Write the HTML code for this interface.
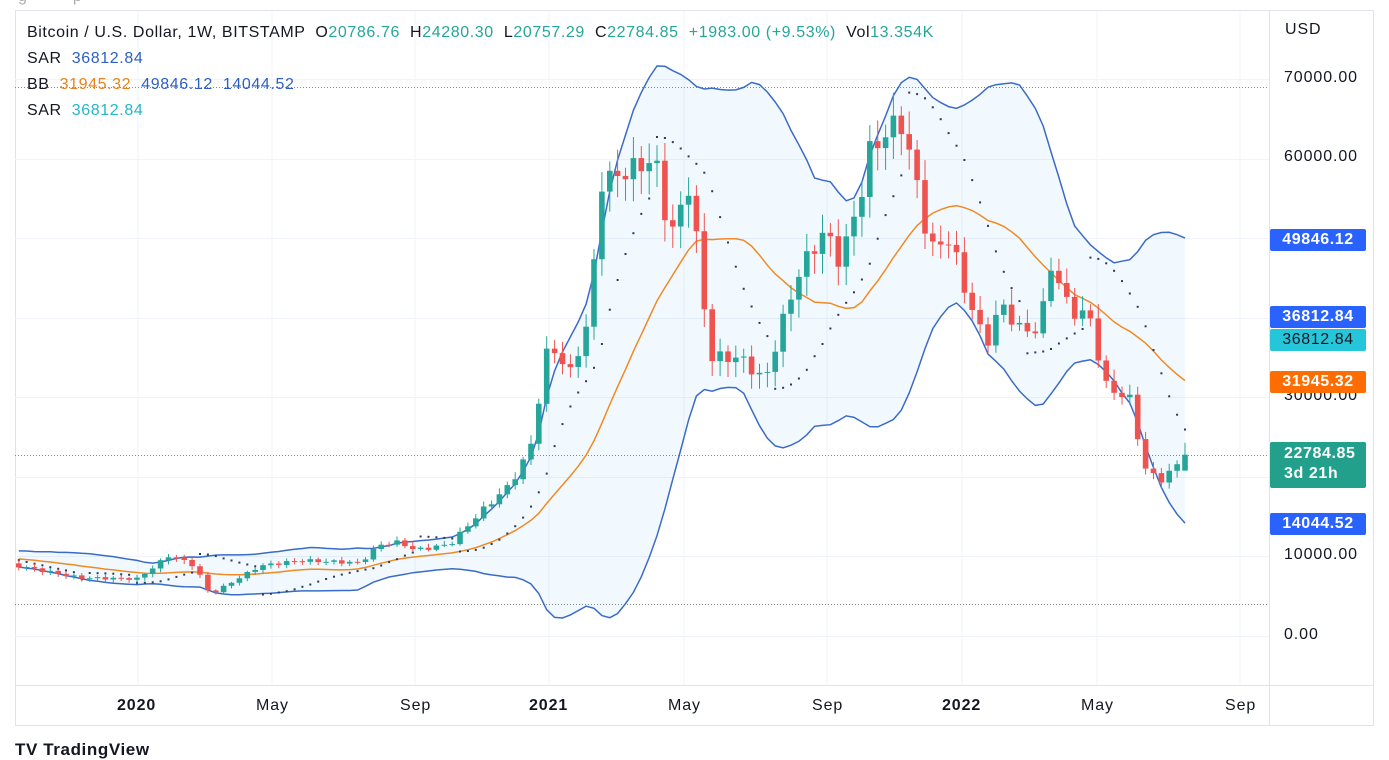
<!DOCTYPE html>
<html><head><meta charset="utf-8">
<style>
html,body{margin:0;padding:0;background:#fff;width:1389px;height:750px;overflow:hidden;font-family:"Liberation Sans",sans-serif}
.t{position:absolute;white-space:nowrap;font-size:16px;letter-spacing:0.6px;color:#131722}
.lbl{position:absolute;left:1270px;width:96px;height:22px;border-radius:2px;color:#fff;font-size:16px;letter-spacing:0.6px;line-height:22px;text-align:center;font-weight:bold}
.ax{position:absolute;font-size:16px;letter-spacing:0.9px;color:#131722}
</style></head><body>
<div class="t" style="left:18px;top:-12px;color:#aaa">g&nbsp;&nbsp;&nbsp;&nbsp;&nbsp;&nbsp;&nbsp;&nbsp;&nbsp;p</div>
<svg id="c" width="1389" height="750" style="position:absolute;left:0;top:0"></svg>
<div class="t" style="left:27px;top:24px">Bitcoin / U.S. Dollar, 1W, BITSTAMP &nbsp;O<span style="color:#26a69a">20786.76</span> &nbsp;H<span style="color:#26a69a">24280.30</span> &nbsp;L<span style="color:#26a69a">20757.29</span> &nbsp;C<span style="color:#26a69a">22784.85</span> &nbsp;<span style="color:#26a69a">+1983.00 (+9.53%)</span> &nbsp;Vol<span style="color:#26a69a">13.354K</span></div>
<div class="t" style="left:27px;top:50px">SAR &nbsp;<span style="color:#2e5fc7">36812.84</span></div>
<div class="t" style="left:27px;top:76px">BB &nbsp;<span style="color:#e8821e">31945.32</span> &nbsp;<span style="color:#2e5fc7">49846.12</span> &nbsp;<span style="color:#2e5fc7">14044.52</span></div>
<div class="t" style="left:27px;top:102px">SAR &nbsp;<span style="color:#26b5c7">36812.84</span></div>
<div class="ax" style="left:1285px;top:21px">USD</div>
<div class="ax" style="left:1284px;top:69px">70000.00</div>
<div class="ax" style="left:1284px;top:148px">60000.00</div>
<div class="ax" style="left:1284px;top:387px">30000.00</div>
<div class="ax" style="left:1284px;top:546px">10000.00</div>
<div class="ax" style="left:1284px;top:626px">0.00</div>
<div class="lbl" style="top:229px;background:#2962ff">49846.12</div>
<div class="lbl" style="top:306px;background:#2962ff">36812.84</div>
<div class="lbl" style="top:329px;background:#26c6da;color:#131722;font-weight:normal">36812.84</div>
<div class="lbl" style="top:371px;background:#ff6d00">31945.32</div>
<div class="lbl" style="top:442px;background:#22a08c;line-height:20px;text-align:left;padding-left:14px;width:82px;padding-top:2px;height:44px">22784.85<br>3d 21h</div>
<div class="lbl" style="top:513px;background:#2962ff">14044.52</div>
<div class="ax" style="left:117px;top:697px;font-weight:bold">2020</div>
<div class="ax" style="left:256px;top:697px">May</div>
<div class="ax" style="left:400px;top:697px">Sep</div>
<div class="ax" style="left:529px;top:697px;font-weight:bold">2021</div>
<div class="ax" style="left:668px;top:697px">May</div>
<div class="ax" style="left:812px;top:697px">Sep</div>
<div class="ax" style="left:942px;top:697px;font-weight:bold">2022</div>
<div class="ax" style="left:1081px;top:697px">May</div>
<div class="ax" style="left:1225px;top:697px">Sep</div>
<div class="t" style="left:15px;top:740px;font-size:17px;font-weight:bold">TV TradingView</div>
<script>
var S=document.getElementById('c'),h='';
function Y(v){return 636-v*0.007957;}
h+='<rect x="15.5" y="10.5" width="1358" height="715" fill="none" stroke="#e0e3eb"/>';
h+='<line x1="1269.5" y1="10" x2="1269.5" y2="726" stroke="#e0e3eb"/>';
h+='<line x1="15" y1="685.5" x2="1374" y2="685.5" stroke="#e0e3eb"/>';
[138,272,415,549,684,827,962,1097,1240].forEach(function(x){h+='<line x1="'+x+'" y1="11" x2="'+x+'" y2="685" stroke="#f0f3fa"/>';});
for(var v=0;v<=70000;v+=10000){var y=Math.round(Y(v))+.5;h+='<line x1="15" y1="'+y+'" x2="1269" y2="'+y+'" stroke="#f0f3fa"/>';}
[87,455,604].forEach(function(y){h+='<line x1="15" y1="'+(y+.5)+'" x2="1269" y2="'+(y+.5)+'" stroke="#888" stroke-dasharray="1,2"/>';});
var K=[[-140,10500],[-60,9800],[15,8900],[80,7300],[138,7200],[170,10200],[195,8800],[210,5200],[260,8800],[300,9500],[360,9200],[380,11500],[400,11800],[415,10800],[450,11500],[480,15500],[510,19000],[530,23400],[549,37000],[570,33000],[590,40000],[600,57000],[620,58000],[655,60000],[670,50000],[690,57000],[700,46000],[710,35000],[740,35000],[765,32000],[780,38500],[800,46000],[825,51000],[840,47000],[860,55000],[870,61000],[900,65000],[915,58000],[930,48500],[950,50000],[965,43500],[980,38500],[990,37000],[1000,42000],[1020,38500],[1040,38500],[1050,47000],[1070,41000],[1090,40000],[1105,31500],[1130,29700],[1145,21000],[1160,19600],[1170,20500],[1185,22785]];
function interp(x){for(var i=0;i<K.length-1;i++){if(x<=K[i+1][0]){var a=K[i],b=K[i+1],t=(x-a[0])/(b[0]-a[0]);return a[1]+(b[1]-a[1])*t;}}return K[K.length-1][1];}
var dx=7.88,N=170,C=[],O=[],H=[],L=[],X=[];
for(var i=0;i<N;i++){var x=1185-(N-1-i)*dx;X.push(x);var c=interp(x)*(1+0.022*Math.sin(i*2.3)*(i<N-1?1:0));C.push(c);}
for(var i=0;i<N;i++){var o=i?C[i-1]:C[0];O.push(o);var hi=Math.max(o,C[i])*(1+0.015+0.03*Math.abs(Math.sin(i*1.7)));var lo=Math.min(o,C[i])*(1-0.015-0.04*Math.abs(Math.sin(i*3.1)));H.push(hi);L.push(lo);}
O[N-1]=20786.76;H[N-1]=24280.3;L[N-1]=20757.29;
var up=[],mid=[],dn=[];
for(var i=0;i<N;i++){if(i<19){up.push(null);mid.push(null);dn.push(null);continue;}var s=0;for(var j=i-19;j<=i;j++)s+=C[j];var m=s/20,q=0;for(var j=i-19;j<=i;j++)q+=(C[j]-m)*(C[j]-m);var sd=Math.sqrt(q/20);mid.push(m);up.push(m+2*sd);dn.push(m-2*sd);}
function poly(arr){var p=[];for(var i=0;i<N;i++)if(arr[i]!=null&&X[i]>=15)p.push(X[i].toFixed(1)+','+Y(arr[i]).toFixed(1));return p;}
var pu=poly(up),pd=poly(dn);
h+='<polygon points="'+pu.join(' ')+' '+pd.reverse().join(' ')+'" fill="rgba(33,150,243,0.06)"/>';
h+='<polyline points="'+poly(up).join(' ')+'" fill="none" stroke="#3a6bc8" stroke-width="1.5"/>';
h+='<polyline points="'+poly(dn).join(' ')+'" fill="none" stroke="#3a6bc8" stroke-width="1.5"/>';
h+='<polyline points="'+poly(mid).join(' ')+'" fill="none" stroke="#f08a24" stroke-width="1.5"/>';
var up1=true,af=0.02,ep=H[0],sar=L[0];
for(var i=1;i<N;i++){sar=sar+af*(ep-sar);if(up1){if(L[i]<sar){up1=false;sar=ep;ep=L[i];af=0.02;}else if(H[i]>ep){ep=H[i];af=Math.min(0.2,af+0.02);}}else{if(H[i]>sar){up1=true;sar=ep;ep=H[i];af=0.02;}else if(L[i]<ep){ep=L[i];af=Math.min(0.2,af+0.02);}}
if(X[i]>=15)h+='<rect x="'+(X[i]-1).toFixed(1)+'" y="'+(Y(sar)-1).toFixed(1)+'" width="2" height="2" fill="#2a3a5e"/>';}
for(var i=0;i<N;i++){if(X[i]<15)continue;var g=C[i]>=O[i],col=g?'#26a69a':'#ef5350';var x=X[i];
h+='<line x1="'+x.toFixed(1)+'" y1="'+Y(H[i]).toFixed(1)+'" x2="'+x.toFixed(1)+'" y2="'+Y(L[i]).toFixed(1)+'" stroke="'+col+'"/>';
var t=Y(Math.max(O[i],C[i])),b=Y(Math.min(O[i],C[i]));h+='<rect x="'+(x-2.8).toFixed(1)+'" y="'+t.toFixed(1)+'" width="5.6" height="'+Math.max(1,b-t).toFixed(1)+'" fill="'+col+'"/>';}
S.innerHTML=h;
</script>
</body></html>
